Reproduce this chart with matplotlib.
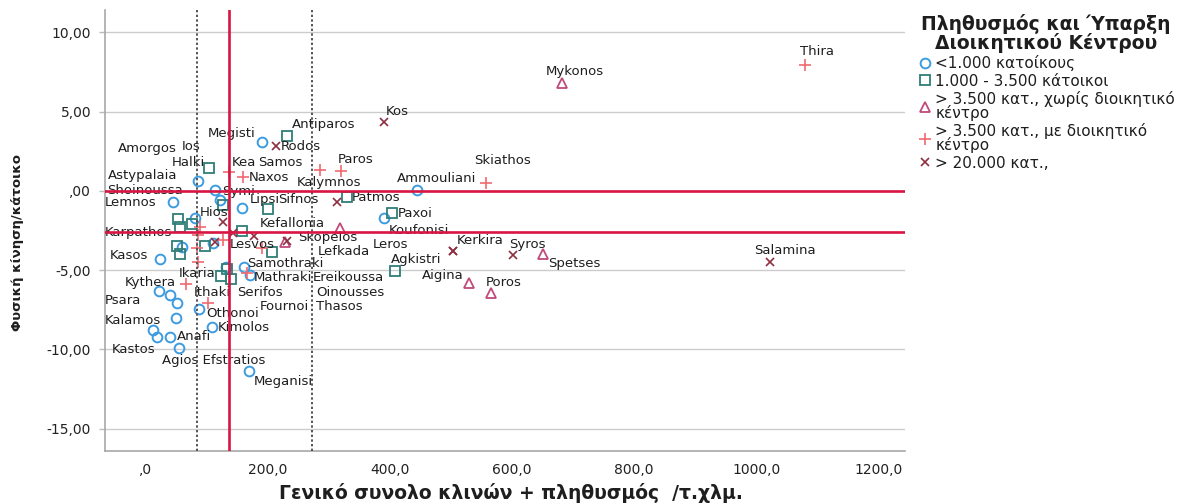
import matplotlib
matplotlib.use("Agg")
import matplotlib.pyplot as plt
from matplotlib.lines import Line2D

plt.rcParams['font.family'] = ['DejaVu Sans']

# ---- data ----
names = ["Thira", "Mykonos", "Kos", "Megisti", "Antiparos", "Rodos", "Halki", "Kea", "Samos",
         "Paros", "Naxos", "Astypalaia", "Skiathos", "Ammouliani", "Symi", "Kalymnos", "Patmos",
         "Lemnos", "Amorgos", "Ios", "Lipsi", "Sifnos", "Paxoi", "Koufonisi", "Hios", "Shoinoussa",
         "Kefallonia", "Karpathos", "Skopelos", "Lesvos", "Kerkira", "Leros", "Syros", "Spetses",
         "Salamina", "Lefkada", "Kasos", "Samothraki", "Agkistri", "Ikaria", "Mathraki",
         "Ereikoussa", "Aigina", "Kythera", "Poros", "Ithaki", "Serifos", "Oinousses", "Psara",
         "Fournoi", "Thasos", "Othonoi", "Kalamos", "Kimolos", "Anafi", "Kastos",
         "Agios Efstratios", "Meganisi",
         "", "", "", "", "", "", "", "", "", "", "", "", "", "", "", "", "", "", ""]
density = [1080, 682, 390, 190, 232, 214, 103, 137, 285,
           319, 159, 85, 558, 445, 113, 314, 329,
           44, 121, 126, 157, 200, 404, 390, 126, 80,
           318, 85, 228, 231, 504, 504, 601, 651,
           1023, 206, 23, 160, 409, 123, 170,
           165, 529, 66, 565, 102, 139, 133, 39,
           97, 142, 87, 49, 108, 39, 54,
           18, 169,
           52, 56, 75, 88, 157, 177, 190, 113, 110, 126, 51, 56, 59, 84, 85, 21, 51, 12, 131]
natural = [7.96, 6.82, 4.31, 3.05, 3.43, 2.80, 1.42, 1.16, 1.29,
           1.23, 0.85, 0.60, 0.47, 0.03, 0.03, -0.72, -0.41,
           -0.72, -0.60, -0.91, -1.10, -1.16, -1.42, -1.73, -1.98, -1.73,
           -2.36, -2.80, -3.24, -3.18, -3.80, -3.80, -4.06, -3.99,
           -4.50, -3.87, -4.31, -4.81, -5.07, -5.38, -5.31,
           -5.19, -5.82, -5.88, -6.45, -7.08, -5.57, -4.94, -6.57,
           -3.49, -2.67, -7.45, -8.02, -8.58, -9.21, -9.91,
           -9.21, -11.35,
           -1.79, -2.30, -2.11, -2.30, -2.55, -2.86, -3.62, -3.24, -3.30, -3.11, -3.49, -3.99,
           -3.55, -3.62, -4.50, -6.32, -7.08, -8.77, -4.81]
group = [3, 2, 4, 0, 1, 4, 1, 3, 3,
         3, 3, 0, 3, 0, 0, 4, 1,
         0, 0, 1, 0, 1, 1, 0, 4, 0,
         2, 3, 2, 4, 4, 4, 4, 2,
         4, 1, 0, 0, 1, 1, 0,
         3, 2, 3, 2, 3, 1, 1, 0,
         1, 4, 0, 0, 0, 0, 0,
         0, 0,
         1, 1, 1, 3, 1, 4, 3, 4, 0, 3, 1, 1, 0, 3, 3, 0, 0, 0, 0]

group_labels = ["<1.000 κατοίκους", "1.000 - 3.500 κάτοικοι",
                "> 3.500 κατ., χωρίς διοικητικό\nκέντρο",
                "> 3.500 κατ., με διοικητικό\nκέντρο", "> 20.000 κατ.,"]
legend_title = "Πληθυσμός και Ύπαρξη\nΔιοικητικού Κέντρου"

ref_h = [0.0, -2.61]
ref_v = [136]
dotted_v = [83.5, 271.7]

xticks = [0, 200, 400, 600, 800, 1000, 1200]
xticklabels = [",0", "200,0", "400,0", "600,0", "800,0", "1000,0", "1200,0"]
yticks = [10, 5, 0, -5, -10, -15]
yticklabels = ["10,00", "5,00", ",00", "-5,00", "-10,00", "-15,00"]

# label offsets (pixels, relative to marker)
label_offsets = {
    "Thira": (-5, 13), "Mykonos": (-16, 11), "Kos": (2, 11), "Megisti": (-54, 9),
    "Antiparos": (4, 12), "Rodos": (4, 0), "Halki": (-37, 6), "Kea": (2, 10),
    "Samos": (-62, 8), "Paros": (-3, 12), "Naxos": (6, 0), "Astypalaia": (-90, 6),
    "Skiathos": (-12, 23), "Ammouliani": (-21, 12), "Symi": (7, -1), "Kalymnos": (-41, 20),
    "Patmos": (5, 0), "Lemnos": (-68, 0), "Amorgos": (-102, 52), "Ios": (-41, 59),
    "Lipsi": (8, 9), "Sifnos": (10, 10), "Paxoi": (5, 0), "Koufonisi": (5, -12),
    "Hios": (-23, 10), "Shoinoussa": (-88, 28), "Kefallonia": (-80, 5), "Karpathos": (-93, 3),
    "Skopelos": (13, 5), "Lesvos": (-57, -3), "Kerkira": (3, 11), "Leros": (-81, 7),
    "Syros": (-4, 11), "Spetses": (5, -9), "Salamina": (-16, 12), "Lefkada": (46, 1),
    "Kasos": (-50, 4), "Samothraki": (4, 4), "Agkistri": (-5, 12), "Ikaria": (-42, 3),
    "Mathraki": (4, -2), "Ereikoussa": (66, -4), "Aigina": (-47, 8), "Kythera": (-61, 2),
    "Poros": (-5, 11), "Ithaki": (-14, 11), "Serifos": (6, -13), "Oinousses": (89, -23),
    "Psara": (-65, -5), "Fournoi": (55, -60), "Thasos": (83, -73), "Othonoi": (7, -4),
    "Kalamos": (-71, -2), "Kimolos": (6, -1), "Anafi": (7, 0), "Kastos": (-67, -1),
    "Agios Efstratios": (5, -24), "Meganisi": (5, -11),
}

# ---- styles ----
styles = [
    dict(marker='o', mfc='none', mec='#3d9be0', ms=7, mew=1.4),
    dict(marker='s', mfc='none', mec='#2f7e78', ms=6.5, mew=1.3),
    dict(marker='^', mfc='none', mec='#bf4a7c', ms=6.5, mew=1.3),
    dict(marker='+', mfc='none', mec='#f06a70', ms=8, mew=1.2),
    dict(marker='x', mfc='none', mec='#8e2f3f', ms=5.5, mew=1.2),
]

fig = plt.figure(figsize=(11.96, 5.04), dpi=100)
ax = fig.add_axes([105 / 1196, 53 / 504, 800 / 1196, 441 / 504])

for g, st in enumerate(styles):
    xs = [x for x, gg in zip(density, group) if gg == g]
    ys = [y for y, gg in zip(natural, group) if gg == g]
    ax.plot(xs, ys, linestyle='none', zorder=3, **st)

for n, x, y in zip(names, density, natural):
    if not n:
        continue
    dx, dy = label_offsets[n]
    ax.annotate(n, (x, y), xytext=(dx, dy), textcoords='offset pixels',
                ha='left', va='center', fontsize=9.5, color='#1e1e1e', zorder=4)

for v in dotted_v:
    ax.axvline(v, color='#555555', linestyle=(0, (1.2, 1.2)), linewidth=1.4, zorder=5)
for h in ref_h:
    ax.axhline(h, color='#d81543', linewidth=1.9, zorder=6)
for v in ref_v:
    ax.axvline(v, color='#d81543', linewidth=1.9, zorder=6)

ax.set_xlim(-67, 1244)
ax.set_ylim(-16.4, 11.4)
ax.set_xticks(xticks)
ax.set_xticklabels(xticklabels)
ax.set_yticks(yticks)
ax.set_yticklabels(yticklabels)
ax.tick_params(axis='x', length=0, pad=9, labelsize=10, labelcolor='#222222')
ax.tick_params(axis='y', length=4, width=1, color='#bbbbbb', pad=6, labelsize=10,
               labelcolor='#222222')
ax.yaxis.grid(True, color='#cccccc', linewidth=1.0, zorder=0)
ax.set_axisbelow(True)
for s in ['top', 'right']:
    ax.spines[s].set_visible(False)
for s in ['left', 'bottom']:
    ax.spines[s].set_color('#a8a8a8')
    ax.spines[s].set_linewidth(1.2)

fig.text(511 / 1196, 1 - 493 / 504, "Γενικό συνολο κλινών + πληθυσμός  /τ.χλμ.",
         ha='center', va='center', fontsize=13.5, fontweight='bold', color='#1e1e1e')
fig.text(18 / 1196, 1 - 242 / 504, "Φυσική κίνηση/κάτοικο", rotation=90,
         ha='center', va='center', fontsize=9.5, fontweight='bold', color='#1e1e1e')

handles = [Line2D([], [], linestyle='none', **st) for st in styles]
leg = fig.legend(handles, group_labels, loc='upper left',
                 bbox_to_anchor=(917 / 1196, 1 - 14 / 504), frameon=False,
                 title=legend_title, title_fontproperties={'weight': 'bold', 'size': 13.5},
                 fontsize=11, handletextpad=0.2, labelspacing=0.15, handlelength=1.0,
                 borderpad=0, borderaxespad=0)
for t in leg.get_texts():
    t.set_linespacing(0.85)
    t.set_color('#1e1e1e')
leg.get_title().set_color('#1e1e1e')
leg.get_title().set_linespacing(0.95)
leg.get_title().set_multialignment('center')

fig.savefig("out.png", dpi=100)
